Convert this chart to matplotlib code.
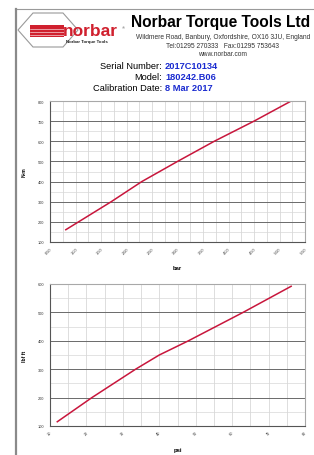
import matplotlib
matplotlib.use("Agg")
import matplotlib.pyplot as plt
from matplotlib.patches import Polygon, Rectangle
from matplotlib.lines import Line2D
from matplotlib.ticker import MultipleLocator, FormatStrFormatter

plt.rcParams['font.family'] = ['Liberation Sans', 'DejaVu Sans']

# calibration curve, metric
bar_vals = [0.81, 1.70, 2.30, 3.00, 3.72, 4.50, 5.23]
nm_vals = [161, 300, 400, 500, 600, 700, 800]

# calibration curve, imperial
psi_vals = [12.0, 21.5, 33.5, 40.0, 48.0, 63.0, 76.2]
lbf_vals = [115, 200, 300, 350, 400, 500, 592]

serial = "2017C10134"
model = "180242.B06"
cal_date = "8 Mar 2017"

W, H = 314, 456
fig = plt.figure(figsize=(W / 100, H / 100), dpi=100)
fig.patch.set_facecolor("white")


def fx(x):
    return x / W


def fy(y):
    return 1 - y / H


# page border
fig.add_artist(Line2D([fx(15), fx(314)], [fy(10), fy(10)], color="#9a9a9a", lw=0.8))
fig.add_artist(Line2D([fx(15.5), fx(15.5)], [fy(10), fy(456)], color="#8a8a8a", lw=1.6))

# logo (rough)
hexa = [(18, 31), (33, 14), (63, 14), (78, 31), (63, 48), (33, 48)]
fig.add_artist(Polygon([(fx(a), fy(b)) for a, b in hexa], closed=True, fill=False,
                       edgecolor="#9a9a9a", lw=0.8))
fig.add_artist(Rectangle((fx(30), fy(38)), fx(34), 12 / H, facecolor="#d0202e",
                         edgecolor="none"))
for yy in (29.5, 32.5, 35.5):
    fig.add_artist(Line2D([fx(30), fx(64)], [fy(yy), fy(yy)], color="white", lw=0.4))
fig.text(fx(63), fy(31.5), "norbar", color="#d0202e", fontsize=12.5, fontweight="heavy",
         ha="left", va="center")
fig.text(fx(122), fy(28), "®", color="#555555", fontsize=3, ha="left", va="center")
fig.text(fx(87), fy(42.5), "Norbar Torque Tools", color="#222222", fontsize=3.2,
         fontweight="bold", ha="center", va="center")

# header text
fig.text(fx(131), fy(22.7), "Norbar Torque Tools Ltd", fontsize=11.2, fontweight="bold",
         ha="left", va="center")
fig.text(fx(223), fy(37.3), "Wildmere Road, Banbury, Oxfordshire, OX16 3JU, England",
         fontsize=4.8, ha="center", va="center", color="#333333")
fig.text(fx(223), fy(46.5), "Tel:01295 270333   Fax:01295 753643",
         fontsize=4.8, ha="center", va="center", color="#333333")
fig.text(fx(223), fy(54), "www.norbar.com", fontsize=4.8, ha="center", va="center",
         color="#333333")

rows = [("Serial Number:", serial, 66.7), ("Model:", model, 77.7),
        ("Calibration Date:", cal_date, 88.7)]
for lab, val, yy in rows:
    fig.text(fx(162), fy(yy), lab, fontsize=6.7, ha="right", va="center")
    fig.text(fx(165), fy(yy), val, fontsize=6.7, fontweight="bold", color="#1a2bd0",
             ha="left", va="center")

line_color = "#c8163c"


def style_axes(ax, xmaj, xmin, ymaj, ymin, fmt, xlab, ylab):
    ax.xaxis.set_major_locator(MultipleLocator(xmaj))
    ax.xaxis.set_minor_locator(MultipleLocator(xmin))
    ax.yaxis.set_major_locator(MultipleLocator(ymaj))
    ax.yaxis.set_minor_locator(MultipleLocator(ymin))
    ax.xaxis.set_major_formatter(FormatStrFormatter(fmt))
    ax.grid(True, axis="x", which="both", color="#d0d0d0", lw=0.5)
    ax.grid(True, axis="y", which="minor", color="#d8d8d8", lw=0.5)
    ax.grid(True, axis="y", which="major", color="#6a6a6a", lw=0.7)
    ax.set_axisbelow(True)
    ax.tick_params(which="both", length=0)
    ax.tick_params(axis="y", labelsize=2.8, pad=4, colors="#333333")
    ax.tick_params(axis="x", labelsize=2.8, pad=3, colors="#333333", labelrotation=45)
    for lbl in ax.get_xticklabels():
        lbl.set_ha("right")
        lbl.set_rotation_mode("anchor")
    for s in ("left", "bottom"):
        ax.spines[s].set_color("#555555")
        ax.spines[s].set_linewidth(0.8)
    for s in ("top", "right"):
        ax.spines[s].set_color("#a8a8a8")
        ax.spines[s].set_linewidth(0.8)
    ax.set_xlabel(xlab, fontsize=4.2, fontweight="bold", labelpad=8)
    ax.set_ylabel(ylab, fontsize=3.6, fontweight="bold", labelpad=8)


ax1 = fig.add_axes([fx(50), fy(243), (305 - 50) / W, (243 - 102) / H])
ax1.plot(bar_vals, nm_vals, color=line_color, lw=1.1)
ax1.set_xlim(0.5, 5.5)
ax1.set_ylim(100, 800)
style_axes(ax1, 0.5, 0.25, 100, 50, "%.2f", "bar", "N·m")

ax2 = fig.add_axes([fx(50), fy(427), (305 - 50) / W, (427 - 285) / H])
ax2.plot(psi_vals, lbf_vals, color=line_color, lw=1.1)
ax2.set_xlim(10, 80)
ax2.set_ylim(100, 600)
style_axes(ax2, 10, 5, 100, 50, "%d", "psi", "lbf ft")

fig.savefig("out.png", dpi=100)
